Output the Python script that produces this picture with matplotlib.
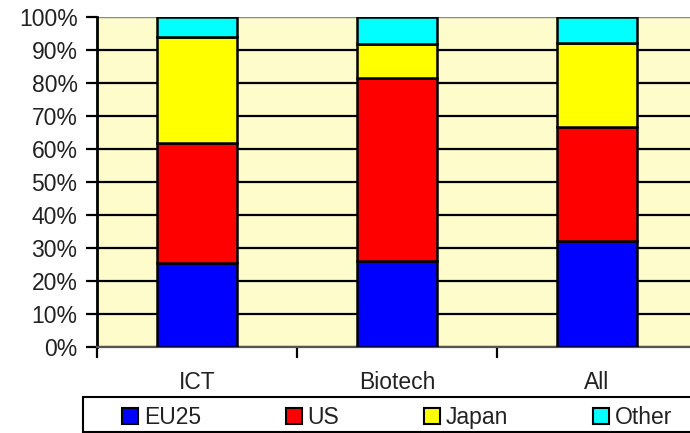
#!/usr/bin/env python3
"""Stacked 100% bar chart: share of patents by region (ICT, Biotech, All)."""

import matplotlib.pyplot as plt
from matplotlib.patches import Patch, Rectangle
from matplotlib.ticker import FixedLocator, PercentFormatter

plt.rcParams["font.family"] = ["Liberation Sans", "DejaVu Sans"]

categories = ["ICT", "Biotech", "All"]
series = ["EU25", "US", "Japan", "Other"]
eu25 = [25.5, 26.2, 32.0]
us = [36.3, 55.4, 34.8]
japan = [32.2, 10.2, 25.4]
other = [6.0, 8.2, 7.8]
colors = ["#0000ff", "#ff0000", "#ffff00", "#00ffff"]

W, H = 690, 433
fig = plt.figure(figsize=(W / 100, H / 100), dpi=100)
ax = fig.add_axes([97 / W, (H - 347) / H, 600 / W, 330 / H])
ax.set_facecolor("#fffccc")

x = range(len(categories))
bottom = [0.0] * len(categories)
for name, vals, col in zip(series, [eu25, us, japan, other], colors):
    ax.bar(x, vals, width=0.4, bottom=bottom, color=col, edgecolor="black",
           linewidth=1.8, zorder=3, label=name)
    bottom = [b + v for b, v in zip(bottom, vals)]

ax.set_xlim(-0.5, 2.5)
ax.set_ylim(0, 100)
ax.set_yticks(range(0, 101, 10))
ax.yaxis.set_major_formatter(PercentFormatter(decimals=0))
ax.grid(axis="y", color="black", linewidth=1.6, zorder=1)
ax.set_axisbelow(True)

ax.set_xticks(list(x))
ax.set_xticklabels(categories)
ax.xaxis.set_minor_locator(FixedLocator([-0.5, 0.5, 1.5, 2.5]))
ax.tick_params(axis="x", which="major", length=0, pad=17, labelsize=16.5,
               labelcolor="#222222")
ax.tick_params(axis="x", which="minor", length=8, width=1.6, direction="out")
ax.tick_params(axis="y", length=8, width=1.6, direction="out", pad=6,
               labelsize=16.5, labelcolor="#222222")

for side in ["top", "right"]:
    ax.spines[side].set_visible(False)
ax.spines["left"].set_linewidth(2)
ax.spines["bottom"].set_color("#555555")
ax.spines["bottom"].set_linewidth(1.6)
ax.axhline(100, color="#aaaaaa", linewidth=1.2, zorder=2)

# legend frame runs past the right edge, as in the original
fig.add_artist(Rectangle((83 / W, 1 / H), 650 / W, 35 / H,
                         transform=fig.transFigure, facecolor="white",
                         edgecolor="black", linewidth=1.5))
handles = [Patch(facecolor=c, edgecolor="black", linewidth=1.5) for c in colors]
leg = fig.legend(handles, series, loc="center left",
                 bbox_to_anchor=(122 / W, 15.5 / H),
                 ncol=4, fontsize=16.5, frameon=False,
                 handlelength=0.7, handleheight=0.7, handletextpad=0.25,
                 columnspacing=3.7, borderpad=0, borderaxespad=0)
for t in leg.get_texts():
    t.set_color("#222222")

fig.savefig("out.png", dpi=100)
